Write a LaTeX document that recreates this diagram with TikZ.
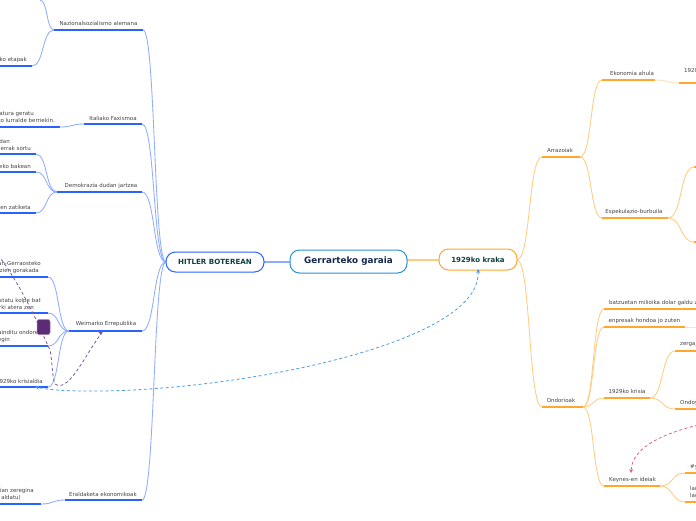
\documentclass[tikz,border=0pt]{standalone}
\usepackage{fontspec}
\setmainfont{DejaVu Sans}
\usetikzlibrary{calc,arrows.meta}
\definecolor{bline}{HTML}{2962FF}
\definecolor{bconn}{HTML}{8FADFF}
\definecolor{oline}{HTML}{FFA72E}
\definecolor{oconn}{HTML}{FFCC80}
\definecolor{ofade}{HTML}{FFE3BD}
\definecolor{rootc}{HTML}{2B90D9}
\definecolor{linkb}{HTML}{4A9FE8}
\definecolor{linkp}{HTML}{7E5A96}
\definecolor{linkr}{HTML}{E8607A}
\definecolor{purp}{HTML}{5B2C75}
\definecolor{txt}{HTML}{444444}
\definecolor{navy}{HTML}{14284F}
\definecolor{teal}{HTML}{0F4040}
\tikzset{
  lbl/.style={font=\fontsize{5.5}{7}\selectfont,text=txt,inner sep=0pt},
  lblr/.style={lbl,anchor=east,align=right},
  lbll/.style={lbl,anchor=west,align=left},
  lblc/.style={lbl,anchor=center},
  bunder/.style={draw=bline,line width=1.6pt},
  ounder/.style={draw=oline,line width=1.7pt},
  bc/.style={draw=bconn,line width=0.85pt},
  oc/.style={draw=oconn,line width=0.85pt},
  ofc/.style={draw=ofade,line width=1pt},
  mainbox/.style={rounded corners=9.5pt,fill=white,line width=1pt,inner sep=0pt},
  dashlink/.style={line width=0.8pt,dash pattern=on 3pt off 2.5pt}
}
\newcommand\topic[5]{%
  \coordinate (#2-l) at (#3,#5);
  \coordinate (#2-r) at (#4,#5);
  \draw[#1] (#2-l) -- (#2-r);}
\newcommand\conn[3]{%
  \draw[#1] (#2) .. controls ($(#2)!0.55!(#2-|#3)$) and ($(#3)!0.55!(#3-|#2)$) .. (#3);}
\begin{document}
\begin{tikzpicture}[x=1pt,y=-1pt]
\useasboundingbox (0,0) rectangle (696,520);
\clip (0,0) rectangle (696,520);
\fill[white] (0,0) rectangle (696,520);
% anchors of the central boxes
\coordinate (rootL) at (290,262);
\coordinate (rootR) at (407,260);
\coordinate (hitL) at (166,262);
\coordinate (hitR) at (264,262);
\coordinate (kraL) at (439,260);
\coordinate (kraR) at (517,260);
\coordinate (off1) at (40,0);
% left topics
\topic{bunder}{naz}{54}{143}{30}
\topic{bunder}{etap}{0}{32}{66}
\topic{bunder}{ital}{84}{142}{124}
\topic{bunder}{lurr}{0}{60}{127}
\topic{bunder}{demo}{57}{142}{192}
\topic{bunder}{sortu}{0}{36}{154}
\topic{bunder}{bake}{0}{36}{172}
\topic{bunder}{zati}{0}{36}{213}
\topic{bunder}{weim}{69}{142}{331}
\topic{bunder}{gora}{0}{48}{277}
\topic{bunder}{kolp}{0}{48}{313}
\topic{bunder}{ondo}{0}{48}{346}
\topic{bunder}{kris}{0}{48}{387}
\topic{bunder}{eral}{65}{142}{500}
\topic{bunder}{zere}{0}{41}{504}
% right topics
\topic{ounder}{arra}{542}{580}{157}
\topic{ounder}{ondr}{542}{583}{407}
\topic{ounder}{ekon}{602}{655}{80}
\topic{ounder}{e2}{679}{696}{83}
\topic{ounder}{espe}{602}{668}{218}
\topic{ounder}{es1}{694}{696}{167}
\topic{ounder}{es2}{694}{696}{242}
\topic{ounder}{batz}{604}{696}{309}
\topic{ounder}{enpr}{604}{685}{327}
\coordinate (enpE) at (696,327);
\topic{ounder}{k29}{604}{650}{398}
\topic{ounder}{zerg}{675}{696}{351}
\topic{ounder}{ondy}{675}{696}{409}
\topic{ounder}{keyn}{604}{660}{486}
\topic{ounder}{ky1}{685}{696}{473}
\topic{ounder}{ky2}{685}{696}{502}
% connectors left
\draw[bc,line width=1.2pt] (hitR) -- (rootL);
\conn{bc}{hitL}{naz-r}
\conn{bc}{hitL}{ital-r}
\conn{bc}{hitL}{demo-r}
\conn{bc}{hitL}{weim-r}
\conn{bc}{hitL}{eral-r}
\conn{bc}{naz-l}{off1}
\conn{bc}{naz-l}{etap-r}
\conn{bc}{ital-l}{lurr-r}
\conn{bc}{demo-l}{sortu-r}
\conn{bc}{demo-l}{bake-r}
\conn{bc}{demo-l}{zati-r}
\conn{bc}{weim-l}{gora-r}
\conn{bc}{weim-l}{kolp-r}
\conn{bc}{weim-l}{ondo-r}
\conn{bc}{weim-l}{kris-r}
\conn{bc}{eral-l}{zere-r}
% connectors right
\draw[oc,line width=1.2pt] (rootR) -- (kraL);
\conn{oc}{kraR}{arra-l}
\conn{oc}{kraR}{ondr-l}
\conn{oc}{arra-r}{ekon-l}
\conn{oc}{arra-r}{espe-l}
\conn{ofc}{ekon-r}{e2-l}
\conn{oc}{espe-r}{es1-l}
\conn{oc}{espe-r}{es2-l}
\conn{oc}{ondr-r}{batz-l}
\conn{oc}{ondr-r}{enpr-l}
\conn{oc}{ondr-r}{k29-l}
\conn{oc}{ondr-r}{keyn-l}
\conn{oc}{k29-r}{zerg-l}
\conn{oc}{k29-r}{ondy-l}
\conn{oc}{keyn-r}{ky1-l}
\conn{oc}{keyn-r}{ky2-l}
\draw[ofc] (enpr-r) -- (enpE);
% central boxes
\node[mainbox,draw=rootc,minimum width=117pt,minimum height=23pt,font=\bfseries\fontsize{8.8}{10}\selectfont,text=navy] (root) at (348.5,261.5) {Gerrarteko garaia};
\node[mainbox,draw=bline,minimum width=98pt,minimum height=20pt,font=\bfseries\fontsize{7.1}{8}\selectfont,text=teal] (hit) at (215,262) {HITLER BOTEREAN};
\node[mainbox,draw=oline,minimum width=78pt,minimum height=21pt,font=\bfseries\fontsize{7}{8}\selectfont,text=teal] (kra) at (478,259.5) {1929ko kraka};
% labels left
\node[lblc] (tnaz) at (98.5,23) {Nazionalsozialismo alemana};
\node[lblr] (tetap) at (27,59.5) {ko etapak};
\node[lblc] (tital) at (113,118) {Italiako Faxismoa};
\node[lblr] (tlurr) at (55,117.5) {\mbox{atura geratu\hspace{21pt}}\\ko lurralde berriekin.};
\node[lblc] (tdemo) at (101,186) {Demokrazia dudan jartzea};
\node[lblr] (tsortu) at (31,144.5) {\mbox{dan\hspace{21pt}}\\errak sortu};
\node[lblr] (tbake) at (31,166) {eko bakean};
\node[lblr] (tzati) at (31,207) {en zatiketa};
\node[lblc] (tweim) at (106,324) {Weimarko Errepublika};
\node[lblr] (tgora) at (41,267.5) {an-Gerraosteko\\\mbox{zien gorakada\hspace{2pt}}};
\node[lblr] (tkolp) at (41,303.5) {estatu kolpe bat\\\mbox{rki atera zen\hspace{7pt}}};
\node[lblr] (tondo) at (42,336.5) {ainditu ondoren\\\mbox{egin\hspace{32pt}}};
\node[lblr] (tkris) at (43,381) {929ko krisialdia};
\node[lblc] (teral) at (103,494) {Eraldaketa ekonomikoak};
\node[lblr] (tzere) at (34,494) {ian zeregina\\\mbox{aldatu)\hspace{13pt}}};
% labels right
\node[lblc] (tarra) at (560,150) {Arrazoiak};
\node[lblc] (tondr) at (561,400) {Ondorioak};
\node[lblc] (tekon) at (632,73) {Ekonomia ahula};
\node[lbll] (te2) at (684,70) {1920};
\node[lblc] (tespe) at (634,212) {Espekulazio-burbuila};
\node[lbll] (tbatz) at (609,303) {batzuetan milioika dolar galdu z};
\node[lbll] (tenpr) at (608.5,321) {enpresak hondoa jo zuten};
\node[lbll] (tk29) at (608.5,391) {1929ko krisia};
\node[lbll] (tzerg) at (680,344) {zergaj};
\node[lbll] (tondy) at (680,403) {Ondoy};
\node[lbll] (tkeyn) at (609,480) {Keynes-en ideiak};
\node[lbll] (tky1) at (690,467) {\#y};
\node[lbll] (tky2) at (690,492.5) {lan\\lag};
% dashed links
\coordinate (pA) at (-2,255);
\coordinate (pM) at (57,385);
\coordinate (pE) at (103,331);
\draw[linkp,dashlink] (pA) .. controls (25,290) and (45,340) .. (50,350) .. controls (53,365) and (52,385) .. (pM) .. controls (70,390) and (85,355) .. (pE);
\fill[linkp] (pE) -- ++(-4.5,1) -- ++(2.5,3) -- cycle;
\coordinate (kraB) at (478,269);
\coordinate (krisE) at (35,387);
\draw[linkb,dashlink,{Stealth[length=4pt,width=4pt]}-{Stealth[length=4pt,width=4pt]}] (kraB) .. controls (482,345) and (230,392) .. (90,391) .. controls (65,391) and (50,390) .. (krisE);
\coordinate (redS) at (698,425);
\coordinate (keynT) at (631,473);
\draw[linkr,dashlink,-{Stealth[length=4pt,width=4pt]}] (redS) .. controls (670,432) and (632,445) .. (keynT);
\node[fill=purp,draw=purp!60,line width=0.5pt,rounded corners=2pt,minimum width=13pt,minimum height=15pt,inner sep=0pt] (sq) at (43.5,327) {};
\end{tikzpicture}
\end{document}
